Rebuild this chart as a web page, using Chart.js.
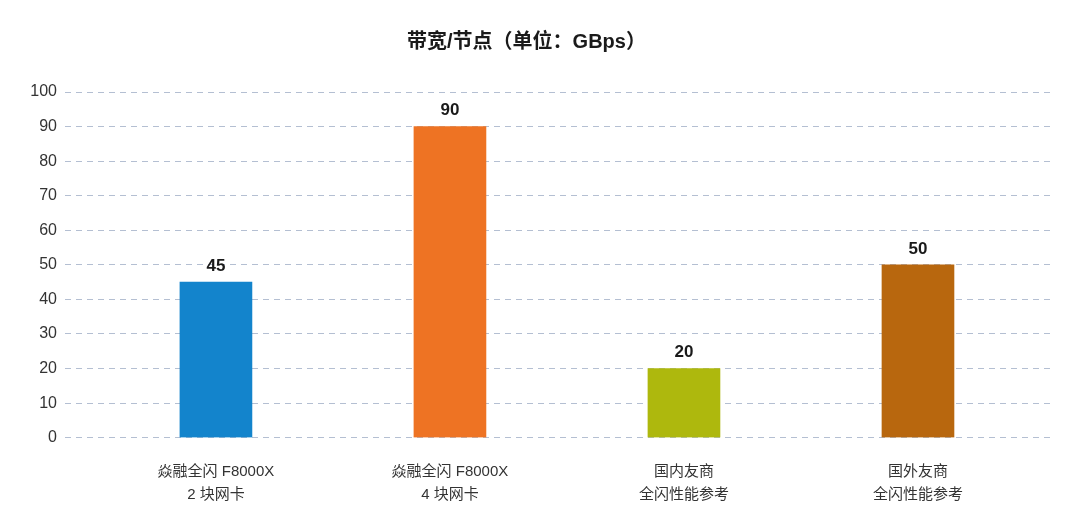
<!DOCTYPE html>
<html>
<head>
<meta charset="utf-8">
<script src="https://cdn.jsdelivr.net/npm/chart.js@4/dist/chart.umd.min.js"></script>
<style>
  html, body { margin: 0; padding: 0; background: #fff; }
  #wrap { width: 1080px; height: 530px; }
</style>
</head>
<body>
<div id="wrap"><canvas id="bw"></canvas></div>
<script>
const categories = [
  ['焱融全闪 F8000X', '2 块网卡'],
  ['焱融全闪 F8000X', '4 块网卡'],
  ['国内友商', '全闪性能参考'],
  ['国外友商', '全闪性能参考']
];
const bandwidth = [45, 90, 20, 50];
const barColors = ['#1384cc', '#ee7323', '#aeb80d', '#b8670e'];
const yTicks = [0, 10, 20, 30, 40, 50, 60, 70, 80, 90, 100];

const FONT = '"Liberation Sans", "Noto Sans CJK SC", sans-serif';

// value labels above each bar
const valueLabels = {
  id: 'valueLabels',
  afterDatasetsDraw(chart) {
    const ctx = chart.ctx;
    const meta = chart.getDatasetMeta(0);
    ctx.save();
    ctx.font = 'bold 17px ' + FONT;
    ctx.fillStyle = '#1a1a1a';
    ctx.textAlign = 'center';
    ctx.textBaseline = 'middle';
    meta.data.forEach((bar, i) => {
      ctx.fillText(String(bandwidth[i]), bar.x, bar.y - 16);
    });
    ctx.restore();
  }
};

new Chart(document.getElementById('bw'), {
  type: 'bar',
  data: {
    datasets: [{
      data: categories.map((c, i) => ({ x: i, y: bandwidth[i] })),
      backgroundColor: barColors,
      barThickness: 72
    }]
  },
  options: {
    responsive: true,
    maintainAspectRatio: false,
    animation: false,
    layout: { padding: { left: 0, right: 27, top: 0, bottom: 0 } },
    plugins: {
      legend: { display: false },
      tooltip: { enabled: false },
      title: {
        display: true,
        text: '带宽/节点（单位：GBps）',
        color: '#1a1a1a',
        font: { family: FONT, size: 20, weight: 'bold', lineHeight: 1.2 },
        padding: { top: 30, bottom: 38 }
      }
    },
    scales: {
      x: {
        type: 'linear',
        offset: false,
        min: -0.645,
        max: 3.577,
        grid: { display: false, drawTicks: false, offset: false },
        border: { display: false },
        afterBuildTicks: s => { s.ticks = categories.map((c, i) => ({ value: i })); },
        afterFit: s => { s.height = 92.3; },
        ticks: {
          autoSkip: false,
          maxRotation: 0,
          padding: 23,
          color: '#333',
          font: { family: FONT, size: 15, lineHeight: 1.5 },
          callback: v => categories[v]
        }
      },
      y: {
        min: 0,
        max: 100,
        grid: { color: '#b4bfd2', lineWidth: 1, drawTicks: false },
        border: { display: false, dash: [6, 5] },
        afterBuildTicks: s => { s.ticks = yTicks.map(v => ({ value: v })); },
        afterFit: s => { s.width = 65; },
        ticks: {
          padding: 8,
          color: '#333',
          font: { family: FONT, size: 16 }
        }
      }
    }
  },
  plugins: [valueLabels]
});
</script>
</body>
</html>
